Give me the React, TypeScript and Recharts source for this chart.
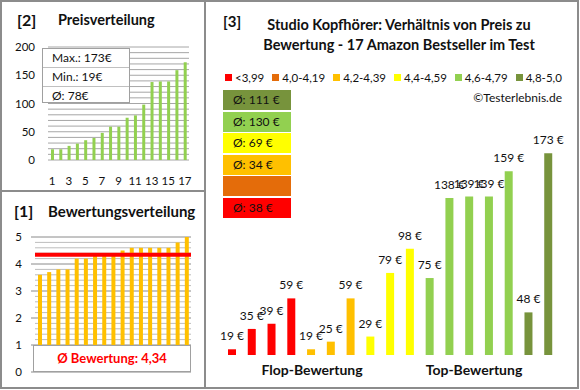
import { BarChart, Bar, XAxis, YAxis, Cell, LabelList, ReferenceLine } from 'recharts';

const FONT = 'Lato, "Open Sans", sans-serif';
const INK = '#111111';

// [2] Preisverteilung: prices of the 17 products, sorted
const sortedPrices = [19, 19, 25, 29, 35, 39, 48, 59, 59, 75, 79, 98, 138, 139, 139, 159, 173];
const priceTicks = [0, 50, 100, 150, 200];
const priceGrid = Array.from({ length: 21 }, (_, i) => i * 10);
const priceStats = ['Max.: 173€', 'Min.: 19€', 'Ø: 78€'];

// [1] Bewertungsverteilung: ratings, sorted
const sortedRatings = [3.6, 3.7, 3.8, 3.8, 4.2, 4.2, 4.3, 4.3, 4.3, 4.5, 4.6, 4.6, 4.6, 4.6, 4.6, 4.8, 5.0];
const ratingTicks = [0, 1, 2, 3, 4, 5];
const ratingMinorGrid = Array.from({ length: 26 }, (_, i) => Math.round(i * 2) / 10).filter((v) => v % 1 !== 0);
const avgRating = 4.34;
const avgRatingLabel = 'Ø Bewertung: 4,34';

// [3] price per product, grouped by rating band
const ratingBands = ['<3,99', '4,0-4,19', '4,2-4,39', '4,4-4,59', '4,6-4,79', '4,8-5,0'];
const bandColors = ['#FF0000', '#E46C0A', '#FFC000', '#FFFF00', '#92D050', '#77933C'];
const bandAverages = ['Ø: 38 €', '', 'Ø: 34 €', 'Ø: 69 €', 'Ø: 130 €', 'Ø: 111 €'];
const productPrices = [19, 35, 39, 59, 19, 25, 59, 29, 79, 98, 75, 138, 139, 139, 159, 48, 173];
const productBands = [0, 0, 0, 0, 2, 2, 2, 3, 3, 3, 4, 4, 4, 4, 4, 5, 5];

const priceData = sortedPrices.map((price, i) => ({ idx: i + 1, price }));
const ratingData = sortedRatings.map((rating, i) => ({ idx: i + 1, rating }));
const productData = productPrices.map((price, i) => ({ idx: i + 1, price, band: productBands[i] }));

const tickStyle = { fontSize: 11.5, fill: INK, fontFamily: FONT };

const abs = (left: number, top: number, extra: React.CSSProperties = {}): React.CSSProperties => ({
  position: 'absolute',
  left,
  top,
  ...extra,
});

// price label above each bar, kept on one line
const PriceLabel = (props: any) => {
  const { x, y, width, value } = props;
  return (
    <text x={x + width / 2} y={y - 9} textAnchor="middle" fontSize={12} fill={INK} fontFamily={FONT}>
      {`${value} €`}
    </text>
  );
};

// horizontal gridlines, drawn before the bars so they sit behind them
const gridLines = (values: number[], color: string) =>
  values.map((v) => <ReferenceLine key={`g${v}`} y={v} stroke={color} strokeWidth={1} zIndex={-100} />);

function PricePanel() {
  return (
    <>
      <div style={abs(0, 0)}>
        <BarChart width={200} height={191} data={priceData} margin={{ top: 47, right: 11, left: 0, bottom: 0 }}>
          <XAxis
            dataKey="idx"
            height={31}
            interval={1}
            axisLine={false}
            tickLine={false}
            tickSize={6}
            tickMargin={11}
            tick={tickStyle}
          />
          <YAxis
            width={48}
            domain={[0, 200]}
            ticks={priceTicks}
            axisLine={false}
            tickLine={false}
            tickSize={4}
            tickMargin={9}
            tick={tickStyle}
          />
          {gridLines(priceGrid, '#a6a6a6')}
          <Bar dataKey="price" fill="#92D050" barSize={3} isAnimationActive={false} />
        </BarChart>
      </div>
      {/* stats box over the chart */}
      <div
        style={abs(42, 48, {
          width: 88,
          height: 55,
          boxSizing: 'border-box',
          border: '1px solid #a0a0a0',
          background: '#fff',
        })}
      >
        {priceStats.map((s, i) => (
          <div
            key={s}
            style={{
              height: i === 2 ? 17 : 18,
              lineHeight: i === 2 ? '17px' : '18px',
              borderBottom: i < 2 ? '1px solid #c0c0c0' : 'none',
              paddingLeft: 9,
              fontSize: 12,
              color: INK,
            }}
          >
            {s}
          </div>
        ))}
      </div>
      <div style={abs(17, 11, { fontSize: 16, fontWeight: 700, lineHeight: '18px', color: INK })}>[2]</div>
      <div style={abs(58, 12, { fontSize: 14.5, fontWeight: 700, lineHeight: '16px', color: INK })}>Preisverteilung</div>
    </>
  );
}

function RatingPanel() {
  return (
    <>
      <div style={abs(0, 191)}>
        <BarChart width={205} height={197} data={ratingData} margin={{ top: 46, right: 14, left: 0, bottom: 16 }}>
          <XAxis dataKey="idx" hide />
          <YAxis
            width={35}
            domain={[0, 5]}
            ticks={ratingTicks}
            axisLine={false}
            tickLine={{ stroke: '#8a8a8a' }}
            tickSize={4}
            tickMargin={9}
            tick={tickStyle}
          />
          {gridLines(ratingMinorGrid, '#bdbdbd')}
          {gridLines(ratingTicks, '#8a8a8a')}
          <Bar dataKey="rating" fill="#FFC000" barSize={4} isAnimationActive={false} />
          <ReferenceLine
            y={avgRating}
            stroke="#FF0000"
            strokeWidth={4}
            segment={[
              { x: 1, y: avgRating },
              { x: 17, y: avgRating },
            ]}
          />
        </BarChart>
      </div>
      <div
        style={abs(33, 345, {
          width: 158,
          height: 27,
          boxSizing: 'border-box',
          border: '1px solid #a0a0a0',
          background: '#fff',
          color: '#FF0000',
          fontWeight: 700,
          fontSize: 13,
          lineHeight: '25px',
          textAlign: 'center',
        })}
      >
        {avgRatingLabel}
      </div>
      <div style={abs(14, 202, { fontSize: 16, fontWeight: 700, lineHeight: '18px', color: INK })}>[1]</div>
      <div style={abs(48, 203, { fontSize: 15, fontWeight: 700, lineHeight: '16px', color: INK })}>
        Bewertungsverteilung
      </div>
    </>
  );
}

function ProductPanel() {
  return (
    <>
      <div style={abs(205, 0)}>
        <BarChart width={373} height={388} data={productData} margin={{ top: 119, right: 20, left: 17, bottom: 33 }}>
          <XAxis dataKey="idx" hide />
          <YAxis hide domain={[14.5, 200]} />
          <Bar dataKey="price" barSize={8} isAnimationActive={false}>
            {productData.map((d) => (
              <Cell key={d.idx} fill={bandColors[d.band]} />
            ))}
            <LabelList dataKey="price" content={PriceLabel} />
          </Bar>
        </BarChart>
      </div>

      <div style={abs(223, 12, { fontSize: 15, fontWeight: 700, lineHeight: '18px', color: INK })}>[3]</div>
      <div
        style={abs(240, 15, {
          width: 318,
          fontSize: 14.5,
          fontWeight: 700,
          lineHeight: '20px',
          textAlign: 'center',
          color: INK,
        })}
      >
        Studio Kopfhörer: Verhältnis von Preis zu
        <br />
        Bewertung - 17 Amazon Bestseller im Test
      </div>

      {/* legend */}
      <div style={abs(225, 70, { display: 'flex', gap: 8, fontSize: 11.5, lineHeight: '15px', color: INK })}>
        {ratingBands.map((b, i) => (
          <div key={b} style={{ display: 'flex', alignItems: 'center', gap: 3 }}>
            <span style={{ width: 7, height: 7, background: bandColors[i], display: 'inline-block' }} />
            <span>{b}</span>
          </div>
        ))}
      </div>
      <div style={abs(462, 90, { width: 100, textAlign: 'right', fontSize: 12, lineHeight: '15px', color: INK })}>
        ©Testerlebnis.de
      </div>

      {/* group averages, highest band on top */}
      <div style={abs(223, 90, { display: 'flex', flexDirection: 'column', gap: 1.6 })}>
        {bandAverages
          .map((a, i) => ({ a, color: bandColors[i] }))
          .reverse()
          .map(({ a, color }) => (
            <div
              key={color}
              style={{
                width: 68,
                height: 20,
                background: color,
                fontSize: 12,
                lineHeight: '20px',
                paddingLeft: 10,
                boxSizing: 'border-box',
                color: INK,
              }}
            >
              {a}
            </div>
          ))}
      </div>

      <div style={abs(232, 361, { width: 160, textAlign: 'center', fontSize: 14, fontWeight: 700, lineHeight: '18px', color: INK })}>
        Flop-Bewertung
      </div>
      <div style={abs(394, 361, { width: 160, textAlign: 'center', fontSize: 14, fontWeight: 700, lineHeight: '18px', color: INK })}>
        Top-Bewertung
      </div>
    </>
  );
}

export default function App() {
  return (
    <div
      style={{
        position: 'absolute',
        left: 0,
        top: 0,
        width: 580,
        height: 390,
        background: '#fff',
        fontFamily: FONT,
        overflow: 'hidden',
      }}
    >
      <PricePanel />
      <RatingPanel />
      <ProductPanel />
      {/* frame */}
      <div
        style={abs(0, 0, {
          width: 579,
          height: 389,
          boxSizing: 'border-box',
          border: '2px solid #8c8c8c',
          pointerEvents: 'none',
        })}
      />
      <div style={abs(204, 0, { width: 2, height: 389, background: '#8c8c8c' })} />
      <div style={abs(0, 190, { width: 205, height: 2, background: '#8c8c8c' })} />
    </div>
  );
}
